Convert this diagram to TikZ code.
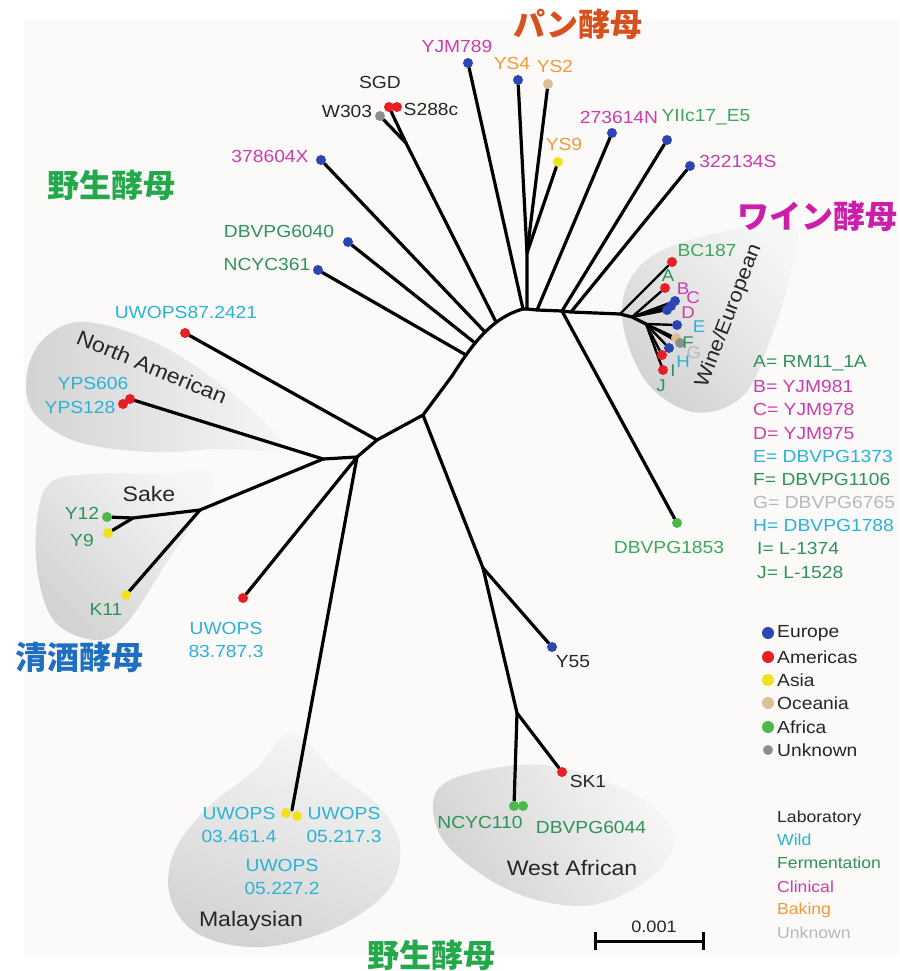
\documentclass[tikz,border=0pt]{standalone}
\usepackage{fontspec}
\setmainfont{Liberation Sans}[FakeStretch=1.1]
\newfontfamily\jpfont{Noto Sans CJK JP}
\definecolor{ceu}{HTML}{2B45B3}
\definecolor{cam}{HTML}{E81E25}
\definecolor{cas}{HTML}{F0E31E}
\definecolor{coc}{HTML}{DDBE95}
\definecolor{caf}{HTML}{4DB84A}
\definecolor{cun}{HTML}{8E8E8E}
\definecolor{twild}{HTML}{2AB3D6}
\definecolor{tferm}{HTML}{2E9358}
\definecolor{tfermb}{HTML}{3DA85A}
\definecolor{tclin}{HTML}{C83FAD}
\definecolor{tbak}{HTML}{F29B3B}
\definecolor{tunk}{HTML}{B8B8B8}
\definecolor{tlab}{HTML}{262626}
\definecolor{jpan}{HTML}{D7511F}
\definecolor{jwild}{HTML}{24A84C}
\definecolor{jwine}{HTML}{CC1DAB}
\definecolor{jsake}{HTML}{1F6FC1}
\definecolor{bgc}{HTML}{FCF9F9}
\definecolor{blobd}{HTML}{D3D3D3}
\definecolor{blobl}{HTML}{F6F6F6}
\pgfdeclarelayer{back}
\pgfdeclarelayer{edges}
\pgfsetlayers{back,edges,main}
\tikzset{
  br/.style={line width=3.2pt, line cap=round, line join=round, black},
  fan/.style={line width=2.4pt, line cap=round, black},
  dot/.style={circle, fill=#1, inner sep=0pt, minimum size=10pt},
  lgdot/.style={circle, fill=#1, inner sep=0pt, minimum size=12pt},
  lb/.style={font=\fontsize{17.5}{23}\selectfont, inner sep=0pt, text=#1},
  lt/.style={font=\fontsize{17}{20}\selectfont, inner sep=0pt, text=#1},
  grp/.style={font=\fontsize{21}{24}\selectfont, inner sep=0pt, text=tlab},
  lg/.style={font=\fontsize{17.5}{20}\selectfont, inner sep=0pt, anchor=west, text=#1},
  lg2/.style={font=\fontsize{16}{18}\selectfont, inner sep=0pt, anchor=west, text=#1},
  jp/.style={font=\jpfont\bfseries\fontsize{32}{36}\selectfont, inner sep=0pt, text=#1},
  blob/.style={left color=blobd, right color=blobl, draw=none}
}
\begin{document}
\begin{tikzpicture}[x=1pt,y=-1pt]
\useasboundingbox (0,0) rectangle (899,971);
\begin{pgfonlayer}{back}
\fill[bgc] (24,20) rectangle (899,955);
% blobs
\shade[blob, shading angle=90] plot[smooth cycle, tension=0.6] coordinates
  {(282,446) (215,449) (150,452) (75,441) (32,410) (28,368) (48,335) (88,322) (160,345) (230,392)};
\shade[blob, shading angle=135] plot[smooth cycle, tension=0.6] coordinates
  {(215,479) (150,474) (90,474) (50,483) (37,520) (38,575) (55,622) (95,640) (125,625) (165,565)};
\shade[blob, shading angle=160] plot[smooth cycle, tension=0.6] coordinates
  {(292,733) (335,772) (378,805) (400,845) (388,890) (335,928) (262,947) (200,935) (171,900) (173,855) (205,810) (255,770)};
\shade[blob, shading angle=120] plot[smooth cycle, tension=0.6] coordinates
  {(436,792) (475,772) (545,765) (615,785) (662,815) (674,845) (648,880) (592,905) (530,898) (478,872) (440,835)};
\shade[blob, shading angle=135] plot[smooth cycle, tension=0.6] coordinates
  {(797,225) (790,275) (772,335) (748,390) (715,411) (680,408) (645,380) (624,330) (626,288) (652,256) (705,236) (760,226)};
\end{pgfonlayer}

% internal coordinates
\coordinate (n4) at (323,459);
\coordinate (n3) at (357,457);
\coordinate (n1) at (377,440);
\coordinate (n2) at (423,415);
\coordinate (c0) at (452,376);
\coordinate (k1) at (470,348);
\coordinate (k2) at (490,318);
\coordinate (hub) at (523,309);
\coordinate (a1) at (466,355);
\coordinate (a2) at (475,343);
\coordinate (a3) at (485,332);
\coordinate (a4) at (496,322);
\coordinate (j0) at (527,309);
\coordinate (j1) at (537,310);
\coordinate (j2) at (562,311);
\coordinate (j3) at (571,312);
\coordinate (w1) at (620,314);
\coordinate (w2) at (632,317);
\coordinate (w3) at (646,324);
\coordinate (sg) at (406,143);
\coordinate (ys) at (527,253);
\coordinate (yc) at (200,510);
\coordinate (yy) at (133,518);
\coordinate (yn) at (483,568);
\coordinate (wa) at (517,713);
\coordinate (mz) at (292,810);

% leaf dots
\node[dot=ceu] (d1) at (468,63) {};
\node[dot=ceu] (d2) at (518,80) {};
\node[dot=coc] (d3) at (548,84) {};
\node[dot=cun] (d4) at (380,116) {};
\node[dot=cam] (d5a) at (389,107) {};
\node[dot=cam] (d5b) at (397,107) {};
\node[dot=cas] (d6) at (558,162) {};
\node[dot=ceu] (d7) at (612,133) {};
\node[dot=ceu] (d8) at (667,140) {};
\node[dot=ceu] (d9) at (690,166) {};
\node[dot=ceu] (d10) at (321,160) {};
\node[dot=ceu] (d11) at (348,242) {};
\node[dot=ceu] (d12) at (318,270) {};
\node[dot=cam] (d13) at (185,333) {};
\node[dot=cam] (d14a) at (123,404) {};
\node[dot=cam] (d14b) at (130,399) {};
\node[dot=caf] (d15) at (107,517) {};
\node[dot=cas] (d16) at (108,533) {};
\node[dot=cas] (d17) at (126,595) {};
\node[dot=cam] (d18) at (243,598) {};
\node[dot=cas] (d19a) at (286,813) {};
\node[dot=cas] (d19b) at (297,816) {};
\node[dot=ceu] (d20) at (552,647) {};
\node[dot=cam] (d21) at (562,772) {};
\node[dot=caf] (d22a) at (514,806) {};
\node[dot=caf] (d22b) at (523,806) {};
\node[dot=caf] (d23) at (677,523) {};
\node[dot=cam] (d24) at (672,262) {};
\node[dot=cam] (dA) at (665,288) {};
\node[dot=ceu] (dB) at (675,301) {};
\node[dot=ceu] (dC) at (671,306) {};
\node[dot=ceu] (dD) at (667,310) {};
\node[dot=ceu] (dE) at (677,325) {};
\node[dot=coc] (dF) at (676,338) {};
\node[dot=cun] (dG) at (680,343) {};
\node[dot=ceu] (dH) at (669,348) {};
\node[dot=cam] (dI) at (662,355) {};
\node[dot=cam] (dJ) at (663,370) {};

\begin{pgfonlayer}{edges}
\draw[br] (n4) -- (n3) -- (n1) -- (n2) -- (c0) .. controls (k1) and (k2) .. (hub);
\draw[br] (hub) -- (j0) -- (j1) -- (j2) -- (j3) -- (w1) -- (w2) -- (w3);
\draw[br] (n1) -- (d13);
\draw[br] (n4) -- (d14b);
\draw[br] (n4) -- (yc) -- (yy) -- (d15);
\draw[br] (yy) -- (d16);
\draw[br] (yc) -- (d17);
\draw[br] (n3) -- (d18);
\draw[br] (n3) -- (mz);
\draw[br] (n2) -- (yn) -- (d20);
\draw[br] (yn) -- (wa) -- (d21);
\draw[br] (wa) -- (d22a);
\draw[br] (a1) -- (d12);
\draw[br] (a2) -- (d11);
\draw[br] (a3) -- (d10);
\draw[br] (a4) -- (sg) -- (d4);
\draw[br] (sg) -- (d5a);
\draw[br] (hub) -- (d1);
\draw[br] (j0) -- (ys) -- (d2);
\draw[br] (ys) -- (d3);
\draw[br] (ys) -- (d6);
\draw[br] (j1) -- (d7);
\draw[br] (j2) -- (d8);
\draw[br] (j2) -- (d23);
\draw[br] (j3) -- (d9);
\draw[fan] (w1) -- (d24);
\draw[fan] (w2) -- (dA);
\draw[fan] (w2) -- (dB);
\draw[fan] (w2) -- (dC);
\draw[fan] (w2) -- (dD);
\draw[fan] (w3) -- (dE);
\draw[fan] (w3) -- (dF);
\draw[fan] (w3) -- (dG);
\draw[fan] (w3) -- (dH);
\draw[fan] (w3) -- (dI);
\draw[fan] (w3) -- (dJ);
\end{pgfonlayer}

% leaf labels
\node[lb=tclin] (t1) at (457,46) {YJM789};
\node[lb=tbak] (t2) at (512,63) {YS4};
\node[lb=tbak] (t3) at (555,66) {YS2};
\node[lb=tlab] (tsgd) at (380,82) {SGD};
\node[lb=tlab] (t4) at (347,111) {W303};
\node[lb=tlab] (t5) at (431,109) {S288c};
\node[lb=tbak] (t6) at (564,144) {YS9};
\node[lb=tclin] (t7) at (619,117) {273614N};
\node[lb=tfermb] (t8) at (706,117) {YIIc17\_E5};
\node[lb=tclin] (t9) at (738,161) {322134S};
\node[lb=tclin] (t10) at (270,156) {378604X};
\node[lb=tferm] (t11) at (279,231) {DBVPG6040};
\node[lb=tferm] (t12) at (267,264) {NCYC361};
\node[lb=twild] (t13) at (186,312) {UWOPS87.2421};
\node[lb=twild] (t14a) at (93,383) {YPS606};
\node[lb=twild] (t14b) at (80,407) {YPS128};
\node[lb=tferm] (t15) at (82,513) {Y12};
\node[lb=tferm] (t16) at (82,540) {Y9};
\node[lb=tferm] (t17) at (106,609) {K11};
\node[lb=twild, align=center] (t18) at (226,640) {UWOPS\\83.787.3};
\node[lb=twild, align=center] (t19a) at (239,825) {UWOPS\\03.461.4};
\node[lb=twild, align=center] (t19b) at (344,825) {UWOPS\\05.217.3};
\node[lb=twild, align=center] (t19c) at (282,877) {UWOPS\\05.227.2};
\node[lb=tlab] (t20) at (573,662) {Y55};
\node[lb=tlab] (t21) at (588,781) {SK1};
\node[lb=tferm] (t22a) at (480,822) {NCYC110};
\node[lb=tferm] (t22b) at (591,827) {DBVPG6044};
\node[lb=tfermb] (t23) at (669,547) {DBVPG1853};
\node[lb=tfermb] (t24) at (707,250) {BC187};
% wine letters
\node[lt=tferm] (lA) at (668,276) {A};
\node[lt=tclin] (lB) at (683,289) {B};
\node[lt=tclin] (lC) at (693,298) {C};
\node[lt=tclin] (lD) at (688,313) {D};
\node[lt=twild] (lE) at (699,327) {E};
\node[lt=tferm] (lF) at (688,343) {F};
\node[lt=tunk] (lG) at (694,353) {G};
\node[lt=twild] (lH) at (683,362) {H};
\node[lt=tferm] (lI) at (673,371) {I};
\node[lt=tferm] (lJ) at (661,386) {J};

% group labels
\node[grp, rotate=-22.5] (gNA) at (152,367) {North American};
\node[grp] (gSake) at (149,494) {Sake};
\node[grp] (gMal) at (251,921) {Malaysian};
\node[grp] (gWA) at (572,868) {West African};
\node[grp, font=\fontsize{20}{24}\selectfont, rotate=69] (gWE) at (729,316) {Wine/European};

% letter legend
\node[lg=tferm] (kA) at (753,363) {A= RM11\_1A};
\node[lg=tclin] (kB) at (753,386) {B= YJM981};
\node[lg=tclin] (kC) at (753,409) {C= YJM978};
\node[lg=tclin] (kD) at (753,433) {D= YJM975};
\node[lg=twild] (kE) at (753,456) {E= DBVPG1373};
\node[lg=tferm] (kF) at (753,479) {F= DBVPG1106};
\node[lg=tunk] (kG) at (753,502) {G= DBVPG6765};
\node[lg=twild] (kH) at (753,525) {H= DBVPG1788};
\node[lg=tferm] (kI) at (757,548) {I= L-1374};
\node[lg=tferm] (kJ) at (757,572) {J= L-1528};

% region legend
\node[lgdot=ceu] (m1) at (768,633) {};
\node[lgdot=cam] (m2) at (768,657) {};
\node[lgdot=cas] (m3) at (768,680) {};
\node[lgdot=coc] (m4) at (768,703) {};
\node[lgdot=caf] (m5) at (768,727) {};
\node[lgdot=cun, minimum size=10pt] (m6) at (768,750) {};
\node[lg=tlab] (n1t) at (777,633) {Europe};
\node[lg=tlab] (n2t) at (777,657) {Americas};
\node[lg=tlab] (n3t) at (777,680) {Asia};
\node[lg=tlab] (n4t) at (777,703) {Oceania};
\node[lg=tlab] (n5t) at (777,727) {Africa};
\node[lg=tlab] (n6t) at (777,750) {Unknown};

% source legend
\node[lg2=tlab] (s1) at (777,818) {Laboratory};
\node[lg2=twild] (s2) at (777,840) {Wild};
\node[lg2=tferm] (s3) at (777,863) {Fermentation};
\node[lg2=tclin] (s4) at (777,887) {Clinical};
\node[lg2=tbak] (s5) at (777,910) {Baking};
\node[lg2=tunk] (s6) at (777,933) {Unknown};

% scale bar
\coordinate (sb1) at (595,941);
\coordinate (sb2) at (703,941);
\coordinate (sb1t) at (595,932);
\coordinate (sb1b) at (595,950);
\coordinate (sb2t) at (703,932);
\coordinate (sb2b) at (703,950);
\draw[line width=3pt] (sb1) -- (sb2);
\draw[line width=3pt] (sb1t) -- (sb1b);
\draw[line width=3pt] (sb2t) -- (sb2b);
\node[lb=tlab, font=\fontsize{16.5}{20}\selectfont] (sbl) at (654,927) {0.001};

% Japanese titles
\node[jp=jpan] (jp1) at (578,24) {パン酵母};
\node[jp=jwild] (jp2) at (111,185) {野生酵母};
\node[jp=jwine] (jp3) at (817,216) {ワイン酵母};
\node[jp=jsake] (jp4) at (80,657) {清酒酵母};
\node[jp=jwild] (jp5) at (431,955) {野生酵母};
\end{tikzpicture}
\end{document}
